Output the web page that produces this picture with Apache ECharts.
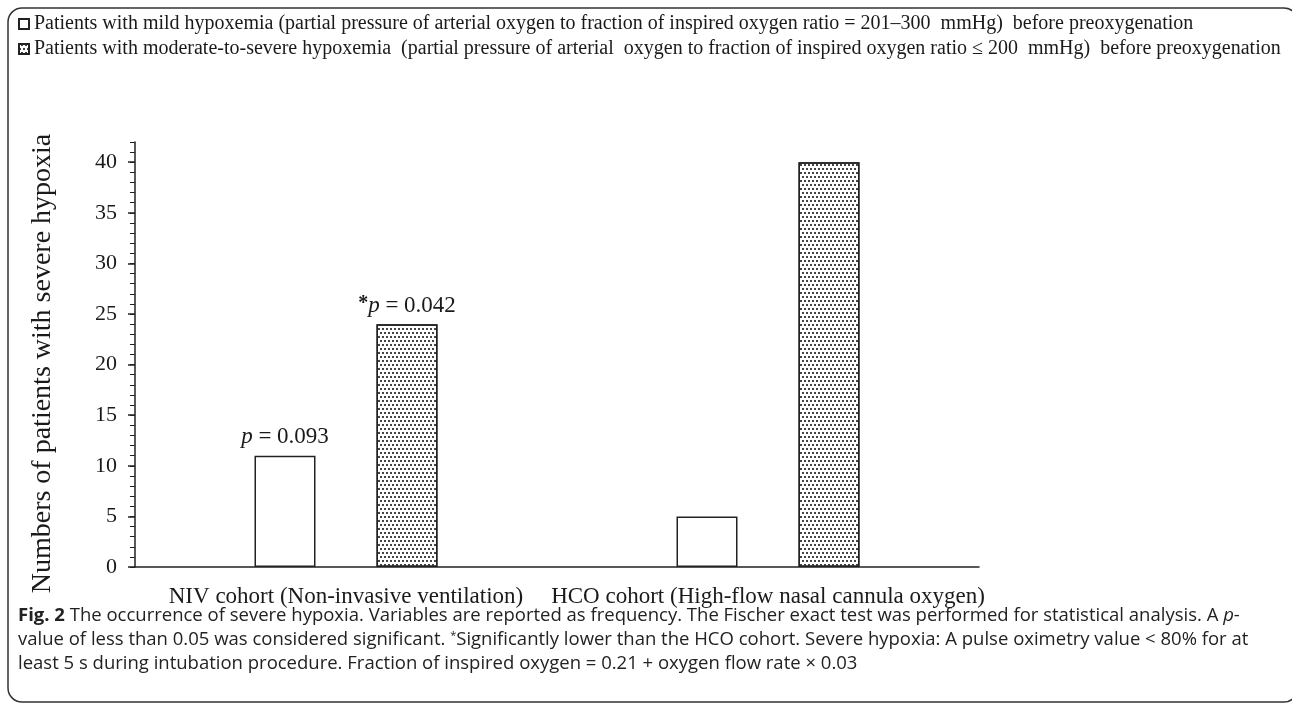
<!DOCTYPE html>
<html>
<head>
<meta charset="utf-8">
<script src="https://cdn.jsdelivr.net/npm/echarts@6/dist/echarts.min.js"></script>
<style>
  html, body { margin: 0; padding: 0; background: #fff; }
  #chart { width: 1292px; height: 704px; }
</style>
</head>
<body>
<div id="chart"></div>
<script>
// values
const categories = ['NIV cohort (Non-invasive ventilation)', 'HCO cohort (High-flow nasal cannula oxygen)']
const seriesNames = [
  'Patients with mild hypoxemia (partial pressure of arterial oxygen to fraction of inspired oxygen ratio = 201\u2013300  mmHg)  before preoxygenation',
  'Patients with moderate-to-severe hypoxemia  (partial pressure of arterial  oxygen to fraction of inspired oxygen ratio \u2264 200  mmHg)  before preoxygenation',
]
const mildValues = [11, 5]
const severeValues = [24, 40]
const mildNotes = ['{i|p} = 0.093', '']
const severeNotes = ['{s|*}{i|p} = 0.042', '']
const yMax = 42

const SERIF = '"Liberation Serif", "Times New Roman", serif'
const SANS = '"Open Sans", "Noto Sans", sans-serif'
const INK = '#1a1a1a'

const captionLines = [
  '{b|Fig. 2} The occurrence of severe hypoxia. Variables are reported as frequency. The Fischer exact test was performed for statistical analysis. A {i|p}-',
  'value of less than 0.05 was considered significant. {sup|*}Significantly lower than the HCO cohort. Severe hypoxia: A pulse oximetry value < 80% for at',
  'least 5 s during intubation procedure. Fraction of inspired oxygen = 0.21 + oxygen flow rate \u00d7 0.03',
]

const noteRich = {
  i: { fontFamily: SERIF, fontStyle: 'italic', fontSize: 23, color: INK },
  s: { fontFamily: SERIF, fontWeight: 'bold', fontSize: 20, color: INK, verticalAlign: 'top' },
}

// staggered dot fill of the moderate-to-severe bars
const DOTS = {
  symbol: 'rect',
  symbolSize: 1,
  color: '#444',
  dashArrayX: [[2, 2], [0, 2, 2, 0]],
  dashArrayY: [2, 2],
}

function makeBar(name, vals, notes, dotted) {
  const itemStyle = { color: '#fff', borderColor: '#222', borderWidth: 1.5 }
  if (dotted) itemStyle.decal = DOTS
  return {
    name,
    type: 'bar',
    data: vals,
    barWidth: 61,
    barGap: '100%',
    itemStyle,
    label: {
      show: true,
      position: 'top',
      distance: 7,
      fontFamily: SERIF,
      fontSize: 23,
      color: INK,
      formatter: (p) => notes[p.dataIndex],
      rich: noteRich,
    },
    emphasis: { disabled: true },
  }
}

const chart = echarts.init(document.getElementById('chart'))

chart.setOption({
  animation: false,
  legend: {
    orient: 'vertical',
    left: 13,
    top: 9,
    itemGap: 5,
    itemWidth: 10,
    itemHeight: 10,
    icon: 'rect',
    textStyle: { fontFamily: SERIF, fontSize: 20, color: INK },
    selectedMode: false,
  },
  grid: { left: 135, right: 313, top: 142, bottom: 137 },
  xAxis: {
    type: 'category',
    data: categories,
    axisLine: { lineStyle: { color: '#222', width: 1.5 } },
    axisTick: { show: false },
    axisLabel: {
      fontFamily: SERIF,
      fontSize: 23,
      color: INK,
      margin: 18,
      interval: 0,
    },
  },
  yAxis: [
    {
      type: 'value',
      min: 0,
      max: yMax,
      interval: 5,
      name: 'Numbers of patients with severe hypoxia',
      nameLocation: 'middle',
      nameRotate: 90,
      nameGap: 78,
      nameTextStyle: { fontFamily: SERIF, fontSize: 28, color: INK, padding: [0, 18, 0, 0] },
      axisLine: { show: true, lineStyle: { color: '#222', width: 1.5 } },
      axisTick: { show: true, length: 7, lineStyle: { color: '#222', width: 1.5 } },
      axisLabel: { fontFamily: SERIF, fontSize: 22, color: INK, margin: 18, showMaxLabel: false },
      splitLine: { show: false },
    },
    {
      // minor ticks, one per patient
      type: 'value',
      position: 'left',
      min: 0,
      max: yMax,
      interval: 1,
      axisLine: { show: false },
      axisTick: { show: true, length: 5, lineStyle: { color: '#222', width: 1 } },
      axisLabel: { show: false },
      splitLine: { show: false },
    },
  ],
  series: [
    makeBar(seriesNames[0], mildValues, mildNotes, false),
    makeBar(seriesNames[1], severeValues, severeNotes, true),
  ],
  graphic: [
    {
      type: 'rect',
      shape: { x: 8, y: 8, width: 1290, height: 694, r: 14 },
      style: { fill: 'none', stroke: '#333', lineWidth: 1.5 },
      silent: true,
    },
    ...captionLines.map((t, i) => ({
      type: 'text',
      left: 18,
      top: 606 + i * 24,
      silent: true,
      style: {
        text: t,
        fontFamily: SANS,
        fontSize: 18.5,
        fill: '#222',
        rich: {
          b: { fontFamily: SANS, fontSize: 18.5, fontWeight: 'bold', fill: '#222' },
          i: { fontFamily: SANS, fontSize: 18.5, fontStyle: 'italic', fill: '#222' },
          sup: { fontFamily: SANS, fontSize: 11, fill: '#222', verticalAlign: 'top' },
        },
      },
    })),
  ],
})
</script>
</body>
</html>
